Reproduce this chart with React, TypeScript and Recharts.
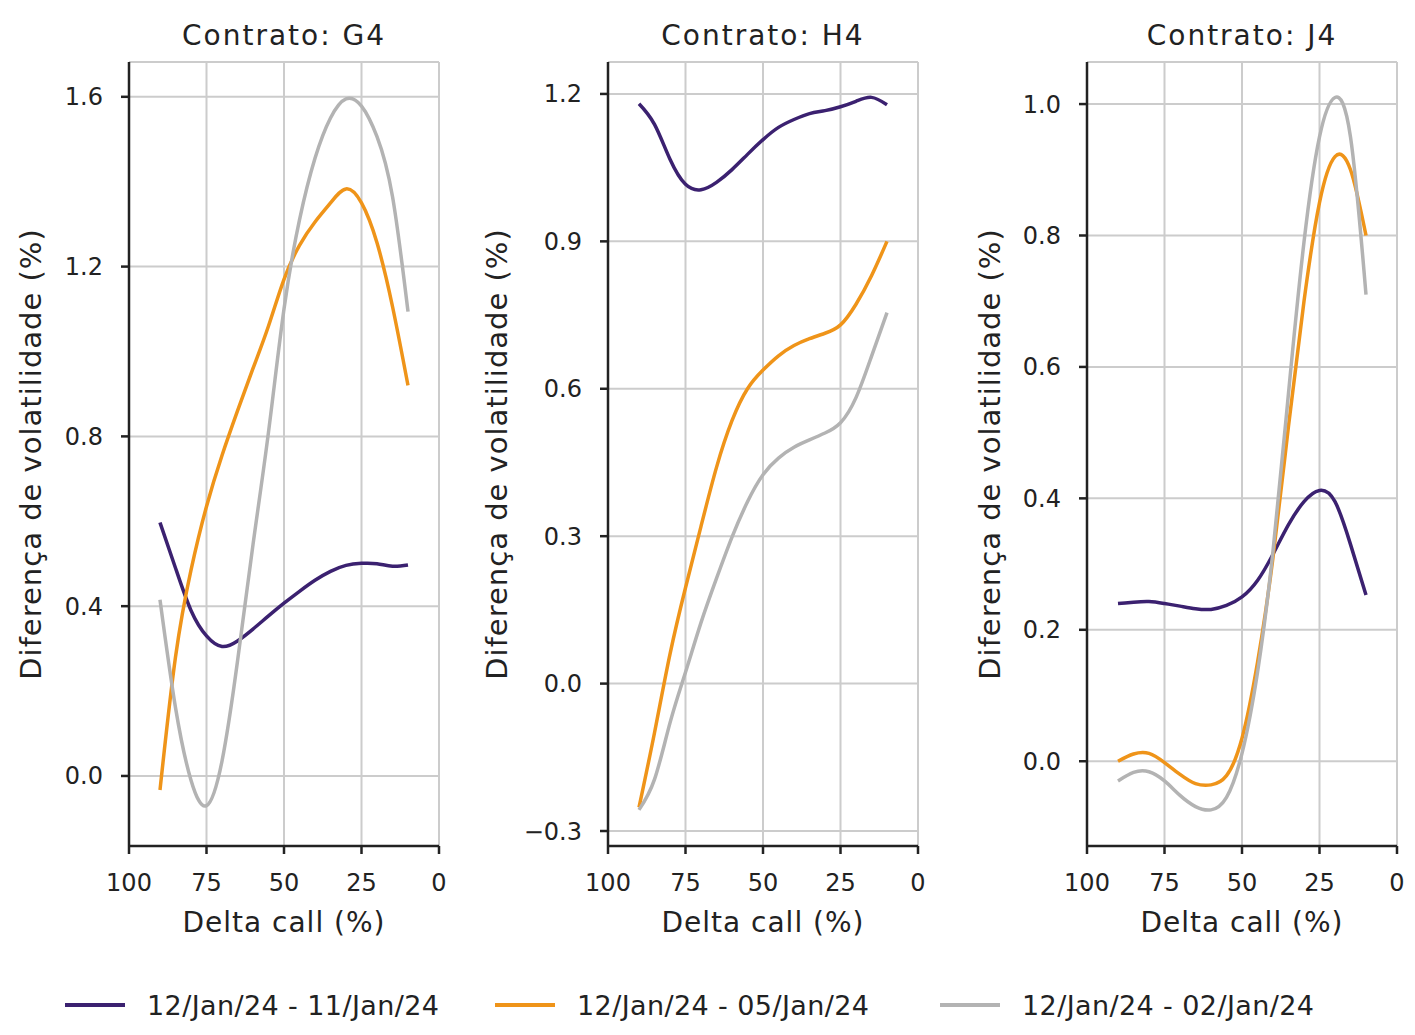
import React from 'react';
import { LineChart, Line, XAxis, YAxis, CartesianGrid } from 'recharts';

const FONT = '"DejaVu Sans", sans-serif';
const TEXT = '#222222';

const deltas = [90, 85, 80, 75, 70, 65, 60, 55, 50, 45, 40, 35, 30, 25, 20, 15, 10];
const xTicks = [0, 25, 50, 75, 100];

const seriesNames = ['12/Jan/24 - 11/Jan/24', '12/Jan/24 - 05/Jan/24', '12/Jan/24 - 02/Jan/24'];
const seriesColors = ['#3b2170', '#ef9419', '#b3b3b3'];

// Contrato G4
const g4Jan11 = [0.597, 0.49, 0.39, 0.33, 0.305, 0.318, 0.346, 0.377, 0.407, 0.435, 0.461, 0.482, 0.496, 0.501, 0.5, 0.494, 0.497];
const g4Jan05 = [-0.033, 0.28, 0.485, 0.635, 0.755, 0.86, 0.96, 1.06, 1.17, 1.25, 1.305, 1.35, 1.383, 1.35, 1.256, 1.106, 0.92];
const g4Jan02 = [0.415, 0.161, -0.01, -0.07, 0.035, 0.27, 0.545, 0.81, 1.1, 1.31, 1.455, 1.55, 1.595, 1.578, 1.506, 1.365, 1.094];

// Contrato H4
const h4Jan11 = [1.18, 1.138, 1.067, 1.016, 1.005, 1.02, 1.046, 1.077, 1.107, 1.132, 1.148, 1.16, 1.166, 1.174, 1.185, 1.193, 1.178];
const h4Jan05 = [-0.252, -0.1, 0.06, 0.195, 0.32, 0.44, 0.535, 0.6, 0.638, 0.667, 0.688, 0.702, 0.713, 0.73, 0.772, 0.83, 0.9];
const h4Jan02 = [-0.257, -0.195, -0.08, 0.023, 0.124, 0.214, 0.298, 0.37, 0.425, 0.459, 0.481, 0.496, 0.51, 0.531, 0.582, 0.666, 0.755];

// Contrato J4
const j4Jan11 = [0.24, 0.242, 0.243, 0.24, 0.236, 0.232, 0.231, 0.237, 0.25, 0.275, 0.315, 0.36, 0.395, 0.412, 0.395, 0.33, 0.253];
const j4Jan05 = [0.0, 0.011, 0.012, -0.002, -0.02, -0.034, -0.036, -0.022, 0.035, 0.15, 0.31, 0.51, 0.7, 0.85, 0.92, 0.9, 0.8];
const j4Jan02 = [-0.03, -0.017, -0.016, -0.03, -0.052, -0.069, -0.074, -0.055, 0.012, 0.135, 0.32, 0.56, 0.79, 0.95, 1.01, 0.95, 0.71];

const buildRows = (a: number[], b: number[], c: number[]) =>
  deltas.map((d, i) => ({ delta: d, s0: a[i], s1: b[i], s2: c[i] }));

const panels = [
  {
    title: 'Contrato: G4',
    rows: buildRows(g4Jan11, g4Jan05, g4Jan02),
    domain: [-0.165, 1.682],
    ticks: [0, 0.4, 0.8, 1.2, 1.6],
    left: -19,
    labelGap: 98,
  },
  {
    title: 'Contrato: H4',
    rows: buildRows(h4Jan11, h4Jan05, h4Jan02),
    domain: [-0.3305, 1.265],
    ticks: [-0.3, 0, 0.3, 0.6, 0.9, 1.2],
    left: 460,
    labelGap: 111,
  },
  {
    title: 'Contrato: J4',
    rows: buildRows(j4Jan11, j4Jan05, j4Jan02),
    domain: [-0.129, 1.064],
    ticks: [0, 0.2, 0.4, 0.6, 0.8, 1.0],
    left: 939,
    labelGap: 97,
  },
];

const AXIS_W = 140;
const PLOT_W = 310;
const CHART_W = AXIS_W + PLOT_W + 12;
const TOP = 54;
const PLOT_H = 784;
const XAXIS_H = 100;
const CHART_H = TOP + PLOT_H + XAXIS_H;

const fmt = (v: number) => v.toFixed(1).replace('-', '\u2212');

const Panel = ({ p }: { p: (typeof panels)[number] }) => (
  <div style={{ position: 'absolute', left: p.left, top: 0 }}>
    <div
      style={{
        position: 'absolute',
        left: AXIS_W,
        width: PLOT_W,
        top: 11,
        textAlign: 'center',
        fontFamily: FONT,
        fontSize: 28,
        letterSpacing: 2,
        color: TEXT,
        whiteSpace: 'nowrap',
      }}
    >
      {p.title}
    </div>
    <LineChart width={CHART_W} height={CHART_H} data={p.rows} margin={{ top: TOP, right: 12, bottom: 0, left: 0 }}>
      <CartesianGrid stroke="#cccccc" strokeWidth={2} />
      <XAxis
        type="number"
        dataKey="delta"
        domain={[0, 100]}
        ticks={xTicks}
        reversed
        height={XAXIS_H}
        stroke={TEXT}
        strokeWidth={2.5}
        tickSize={8}
        tickMargin={20}
        tick={{ fill: TEXT, fontSize: 24, fontFamily: FONT }}
        label={{
          content: (props: any) => {
            const vb = props.viewBox;
            return (
              <text
                x={vb.x + vb.width / 2}
                y={vb.y + 76}
                textAnchor="middle"
                dominantBaseline="central"
                fill={TEXT}
                fontSize={28}
                letterSpacing={1}
                fontFamily={FONT}
              >
                Delta call (%)
              </text>
            );
          },
        }}
      />
      <YAxis
        type="number"
        domain={p.domain}
        ticks={p.ticks}
        allowDataOverflow
        width={AXIS_W}
        stroke={TEXT}
        strokeWidth={2.5}
        tickSize={8}
        tickMargin={18}
        tickFormatter={fmt}
        tick={{ fill: TEXT, fontSize: 24, fontFamily: FONT }}
        label={{
          content: (props: any) => {
            const vb = props.viewBox;
            const cx = vb.x + AXIS_W - p.labelGap;
            const cy = vb.y + vb.height / 2;
            return (
              <text
                x={cx}
                y={cy}
                transform={`rotate(-90, ${cx}, ${cy})`}
                textAnchor="middle"
                dominantBaseline="central"
                fill={TEXT}
                fontSize={29}
                letterSpacing={1}
                fontFamily={FONT}
              >
                Diferença de volatilidade (%)
              </text>
            );
          },
        }}
      />
      {['s0', 's1', 's2'].map((k, i) => (
        <Line
          key={k}
          type="natural"
          dataKey={k}
          name={seriesNames[i]}
          stroke={seriesColors[i]}
          strokeWidth={3.5}
          dot={false}
          isAnimationActive={false}
        />
      ))}
    </LineChart>
  </div>
);

const legendLefts = [57, 487, 932];

export default function App() {
  return (
    <div style={{ position: 'relative', width: 1399, height: 1015, background: '#fff' }}>
      {panels.map((p) => (
        <Panel key={p.title} p={p} />
      ))}
      {seriesNames.map((name, i) => (
        <div
          key={name}
          style={{
            position: 'absolute',
            left: legendLefts[i],
            top: 980,
            height: 34,
            display: 'flex',
            alignItems: 'center',
            fontFamily: FONT,
            fontSize: 27,
            letterSpacing: 0.4,
            color: TEXT,
            whiteSpace: 'nowrap',
          }}
        >
          <svg width={60} height={6} style={{ marginRight: 22 }}>
            <line x1={0} y1={3} x2={60} y2={3} stroke={seriesColors[i]} strokeWidth={4} />
          </svg>
          {name}
        </div>
      ))}
    </div>
  );
}
